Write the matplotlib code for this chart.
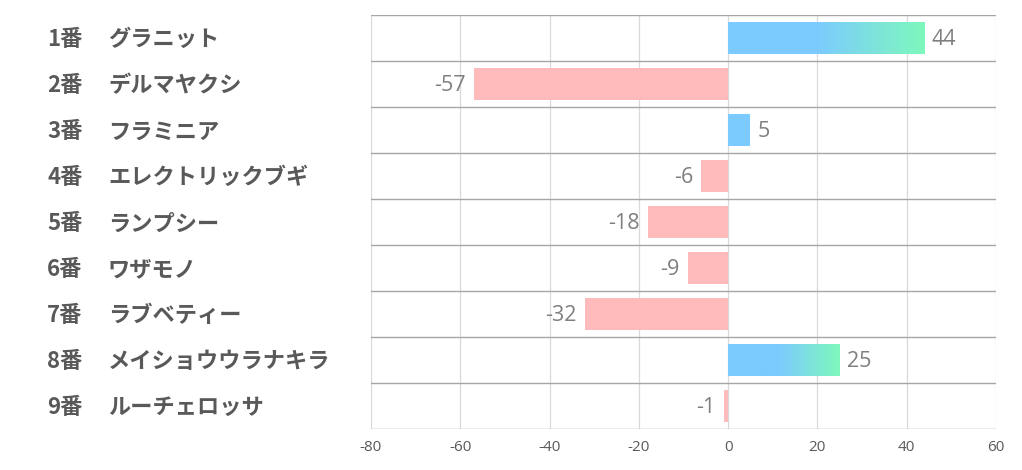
import matplotlib
matplotlib.use("Agg")
import matplotlib.pyplot as plt
import matplotlib.transforms as mtransforms
import numpy as np
from matplotlib.colors import LinearSegmentedColormap

ranks = ["1番", "2番", "3番", "4番", "5番", "6番", "7番", "8番", "9番"]
names = ["グラニット", "デルマヤクシ", "フラミニア", "エレクトリックブギ", "ランプシー",
         "ワザモノ", "ラブベティー", "メイショウウラナキラ", "ルーチェロッサ"]
values = [44, -57, 5, -6, -18, -9, -32, 25, -1]
xticks = [-80, -60, -40, -20, 0, 20, 40, 60]

plt.rcParams['font.family'] = ['Noto Sans CJK JP', 'DejaVu Sans']

fig = plt.figure(figsize=(10.22, 4.70), dpi=100)
ax = fig.add_axes([371/1022, 41/470, 625/1022, 414/470])

blue = "#7ccbff"
green = "#7ef8bd"
pink = "#ffbbbb"
cmap = LinearSegmentedColormap.from_list("g", [(0, blue), (0.45, blue), (1.0, green)])

h = 0.68
n = len(values)
for i, v in enumerate(values):
    if v < 0:
        ax.barh(i, v, height=h, color=pink, zorder=2)
    elif v >= 20:
        grad = np.linspace(0, 1, 256).reshape(1, -1)
        ax.imshow(grad, cmap=cmap, aspect='auto',
                  extent=[0, v, i + h/2, i - h/2], zorder=2, interpolation='bilinear')
    else:
        ax.barh(i, v, height=h, color=blue, zorder=2)

ax.set_xlim(-80, 60)
ax.set_ylim(n - 0.5, -0.5)

# grid
for x in xticks:
    ax.axvline(x, color="#d9d9d9", lw=0.9, zorder=1)
for k in range(n + 1):
    ax.axhline(k - 0.5, color="#a6a6a6", lw=1.0, zorder=3)

for s in ax.spines.values():
    s.set_visible(False)

ax.set_xticks(xticks)
ax.set_xticklabels([str(t) for t in xticks], fontsize=11, color="#595959",
                   family=['Open Sans', 'DejaVu Sans'])
ax.tick_params(axis='x', length=0, pad=8)
ax.set_yticks([])

# value labels
for i, v in enumerate(values):
    if v >= 0:
        ax.annotate(str(v), (v, i), xytext=(5, -1), textcoords='offset points',
                    ha='left', va='center', fontsize=15.5, color="#7f7f7f",
                    family=['Open Sans', 'DejaVu Sans'])
    else:
        ax.annotate(str(v), (v, i), xytext=(-6, -1), textcoords='offset points',
                    ha='right', va='center', fontsize=15.5, color="#7f7f7f",
                    family=['Open Sans', 'DejaVu Sans'])

# left labels
trans = mtransforms.blended_transform_factory(fig.transFigure, ax.transData)
for i, (r, nm) in enumerate(zip(ranks, names)):
    fig.text(47/1022, i + 0.04, r, transform=trans, ha='left', va='center',
             fontsize=16, fontweight='bold', color="#595959")
    fig.text(108/1022, i + 0.04, nm, transform=trans, ha='left', va='center',
             fontsize=16, fontweight='bold', color="#595959")

fig.savefig("out.png", dpi=100, facecolor="white")
